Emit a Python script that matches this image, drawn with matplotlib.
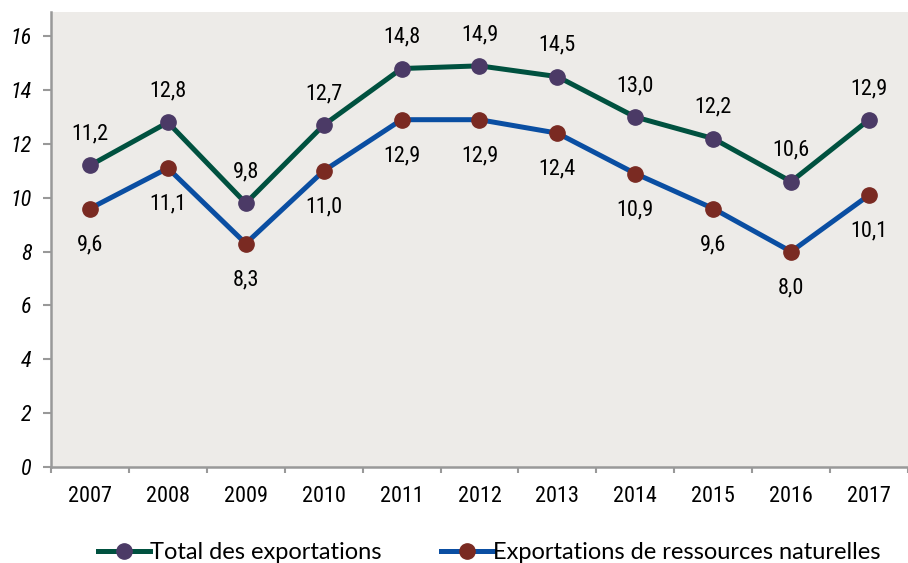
import matplotlib.pyplot as plt
import matplotlib.font_manager as fm
import numpy as np

annees = ["2007", "2008", "2009", "2010", "2011", "2012", "2013", "2014", "2015", "2016", "2017"]
total = [11.2, 12.8, 9.8, 12.7, 14.8, 14.9, 14.5, 13.0, 12.2, 10.6, 12.9]
ressources = [9.6, 11.1, 8.3, 11.0, 12.9, 12.9, 12.4, 10.9, 9.6, 8.0, 10.1]
yticks = [0, 2, 4, 6, 8, 10, 12, 14, 16]

names = {f.name for f in fm.fontManager.ttflist}
narrow = "DejaVu Sans"
for cand in ["Roboto Condensed", "Liberation Sans Narrow", "DejaVu Sans Condensed"]:
    if cand in names:
        narrow = cand
        break

fig = plt.figure(figsize=(9.08, 5.63), dpi=100)
ax = fig.add_axes([51 / 908, 96 / 563, 857 / 908, 455 / 563])
ax.set_facecolor("#edebe8")

x = np.arange(len(annees))
ax.plot(x, total, color="#00513f", lw=3.6, marker="o", ms=11,
        mfc="#4b3a66", mec="#4b3a66", label="Total des exportations", zorder=3)
ax.plot(x, ressources, color="#0a4ea2", lw=3.6, marker="o", ms=11,
        mfc="#7a2a22", mec="#7a2a22", label="Exportations de ressources naturelles", zorder=3)

for i in x:
    ax.annotate(f"{total[i]:.1f}".replace(".", ","), (i, total[i]), xytext=(0, 22.5),
                textcoords="offset points", ha="center", va="center",
                fontsize=16, family=narrow)
    ax.annotate(f"{ressources[i]:.1f}".replace(".", ","), (i, ressources[i]), xytext=(0, -26),
                textcoords="offset points", ha="center", va="center",
                fontsize=16, family=narrow)

ax.set_xlim(-0.5, len(annees) - 0.5)
ax.set_ylim(0, 16.9)
ax.set_yticks(yticks)
ax.set_yticklabels([str(v) for v in yticks], fontsize=16, style="italic", family=narrow)
ax.set_xticks(x)
ax.set_xticklabels(annees, fontsize=16, family=narrow)
ax.set_xticks(np.arange(len(annees) + 1) - 0.5, minor=True)
ax.tick_params(axis="x", which="major", length=0, pad=14)
ax.tick_params(axis="x", which="minor", length=4, width=1.5, color="#999999")
ax.tick_params(axis="y", length=6, width=1.5, color="#999999", pad=8)

for s in ["top", "right"]:
    ax.spines[s].set_visible(False)
for s in ["left", "bottom"]:
    ax.spines[s].set_color("#999999")
    ax.spines[s].set_linewidth(1.8)

fig.legend(loc="center", bbox_to_anchor=(0.539, 0.018), ncol=2, frameon=False,
           handlelength=2.2, handletextpad=0.0, columnspacing=2.5,
           prop={"family": "Lato", "size": 17})

fig.savefig("out.png", dpi=100)
